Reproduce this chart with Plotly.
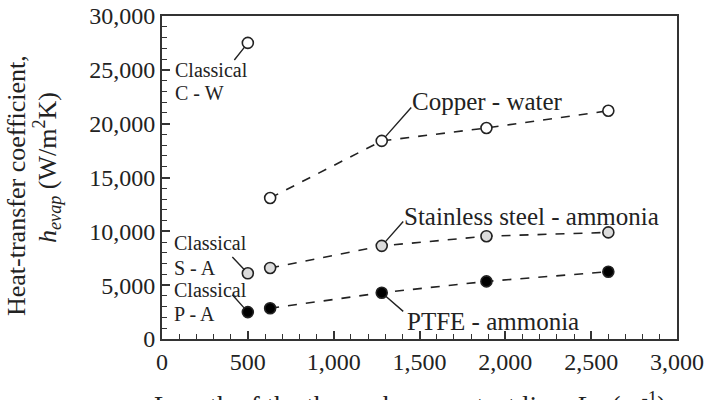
import plotly.graph_objects as go

# Data
length_series = [630, 1280, 1890, 2600]
copper_water = [13100, 18400, 19600, 21200]
stainless_ammonia = [6600, 8650, 9550, 9900]
ptfe_ammonia = [2850, 4300, 5350, 6250]

classical_x = [500, 500, 500]
classical_y = [27500, 6100, 2500]
classical_names = ["Classical C - W", "Classical S - A", "Classical P - A"]

x_ticks = [0, 500, 1000, 1500, 2000, 2500, 3000]
y_ticks = [0, 5000, 10000, 15000, 20000, 25000, 30000]

x_title = "Length of the three-phase contact line, <i>L</i><sub><i>cl</i></sub> (m<sup>-1</sup>)"
y_title_1 = "Heat-transfer coefficient,"
y_title_2 = "<i>h</i><sub><i>evap</i></sub> (W/m<sup>2</sup>K)"

FONT = "Times New Roman, Liberation Serif, serif"
fig = go.Figure()

series = [
    ("Copper - water", copper_water, "white"),
    ("Stainless steel - ammonia", stainless_ammonia, "#dcdcdc"),
    ("PTFE - ammonia", ptfe_ammonia, "black"),
]
for name, ys, fill in series:
    fig.add_trace(go.Scatter(
        x=length_series, y=ys, mode="lines+markers", name=name,
        line=dict(color="#222", width=1.6, dash="dash"),
        marker=dict(size=11, color=fill, line=dict(color="#222", width=1.6)),
        showlegend=False))

fig.add_trace(go.Scatter(
    x=classical_x, y=classical_y, mode="markers", text=classical_names,
    marker=dict(size=11, color=["white", "#dcdcdc", "black"],
                line=dict(color="#222", width=1.6)),
    showlegend=False))

# Plot area in pixels
L, R, T, B = 162, 677, 16, 339
def px(xp):
    return (xp - L) / (R - L)
def py(yp):
    return (B - yp) / (B - T)

def label(text, xp, yp, size=25, angle=0, xanchor="left"):
    fig.add_annotation(text=text, xref="paper", yref="paper", x=px(xp), y=py(yp),
                       xanchor=xanchor, yanchor="middle", showarrow=False, textangle=angle,
                       font=dict(family=FONT, size=size, color="#222"))

def leader(xv, yv, ax, ay):
    fig.add_annotation(x=xv, y=yv, xref="x", yref="y", text=" ", showarrow=True,
                       arrowhead=0, arrowwidth=1.4, arrowcolor="#222",
                       ax=ax, ay=ay, standoff=5, font=dict(size=1))

label("Copper - water", 410, 101)
label("Stainless steel - ammonia", 402, 216)
label("PTFE - ammonia", 405, 321)
label("Classical", 173, 70, 20)
label("C - W", 173, 93, 20)
label("Classical", 172, 243, 20)
label("S - A", 172, 268, 20)
label("Classical", 172, 290, 20)
label("P - A", 172, 314, 20)

# axis titles
label(y_title_1, 16, 186, 26, -90, "center")
label(y_title_2, 47, 168, 26, -90, "center")
label(x_title, 410, 406, 27, 0, "center")

leader(length_series[1], copper_water[1], 31, -35)
leader(length_series[1], stainless_ammonia[1], 23, -26)
leader(length_series[1], ptfe_ammonia[1], 23, 20)
leader(classical_x[0], classical_y[0], -15, 19)
leader(classical_x[1], classical_y[1], -17, -18)
leader(classical_x[2], classical_y[2], -17, -19)

axis_common = dict(showline=True, linecolor="#333", linewidth=2, mirror=True,
                   ticks="inside", ticklen=8, tickwidth=1.5, tickcolor="#333",
                   showgrid=False, zeroline=False, automargin=False,
                   tickfont=dict(family=FONT, size=24, color="#222"))

fig.update_layout(
    width=713, height=400,
    margin=dict(l=L, r=713 - R, t=T, b=400 - B),
    paper_bgcolor="white", plot_bgcolor="white",
    font=dict(family=FONT, color="#222"),
    xaxis=dict(range=[0, 3000], tickvals=x_ticks, tickformat=",d",
               minor=dict(ticks="inside", ticklen=5, dtick=100, tickcolor="#333", tickwidth=1.2),
               **axis_common),
    yaxis=dict(range=[0, 30000], tickvals=y_ticks, tickformat=",d",
               minor=dict(ticks="inside", ticklen=5, dtick=1000, tickcolor="#333", tickwidth=1.2),
               **axis_common),
)

fig.write_html("out.html")
